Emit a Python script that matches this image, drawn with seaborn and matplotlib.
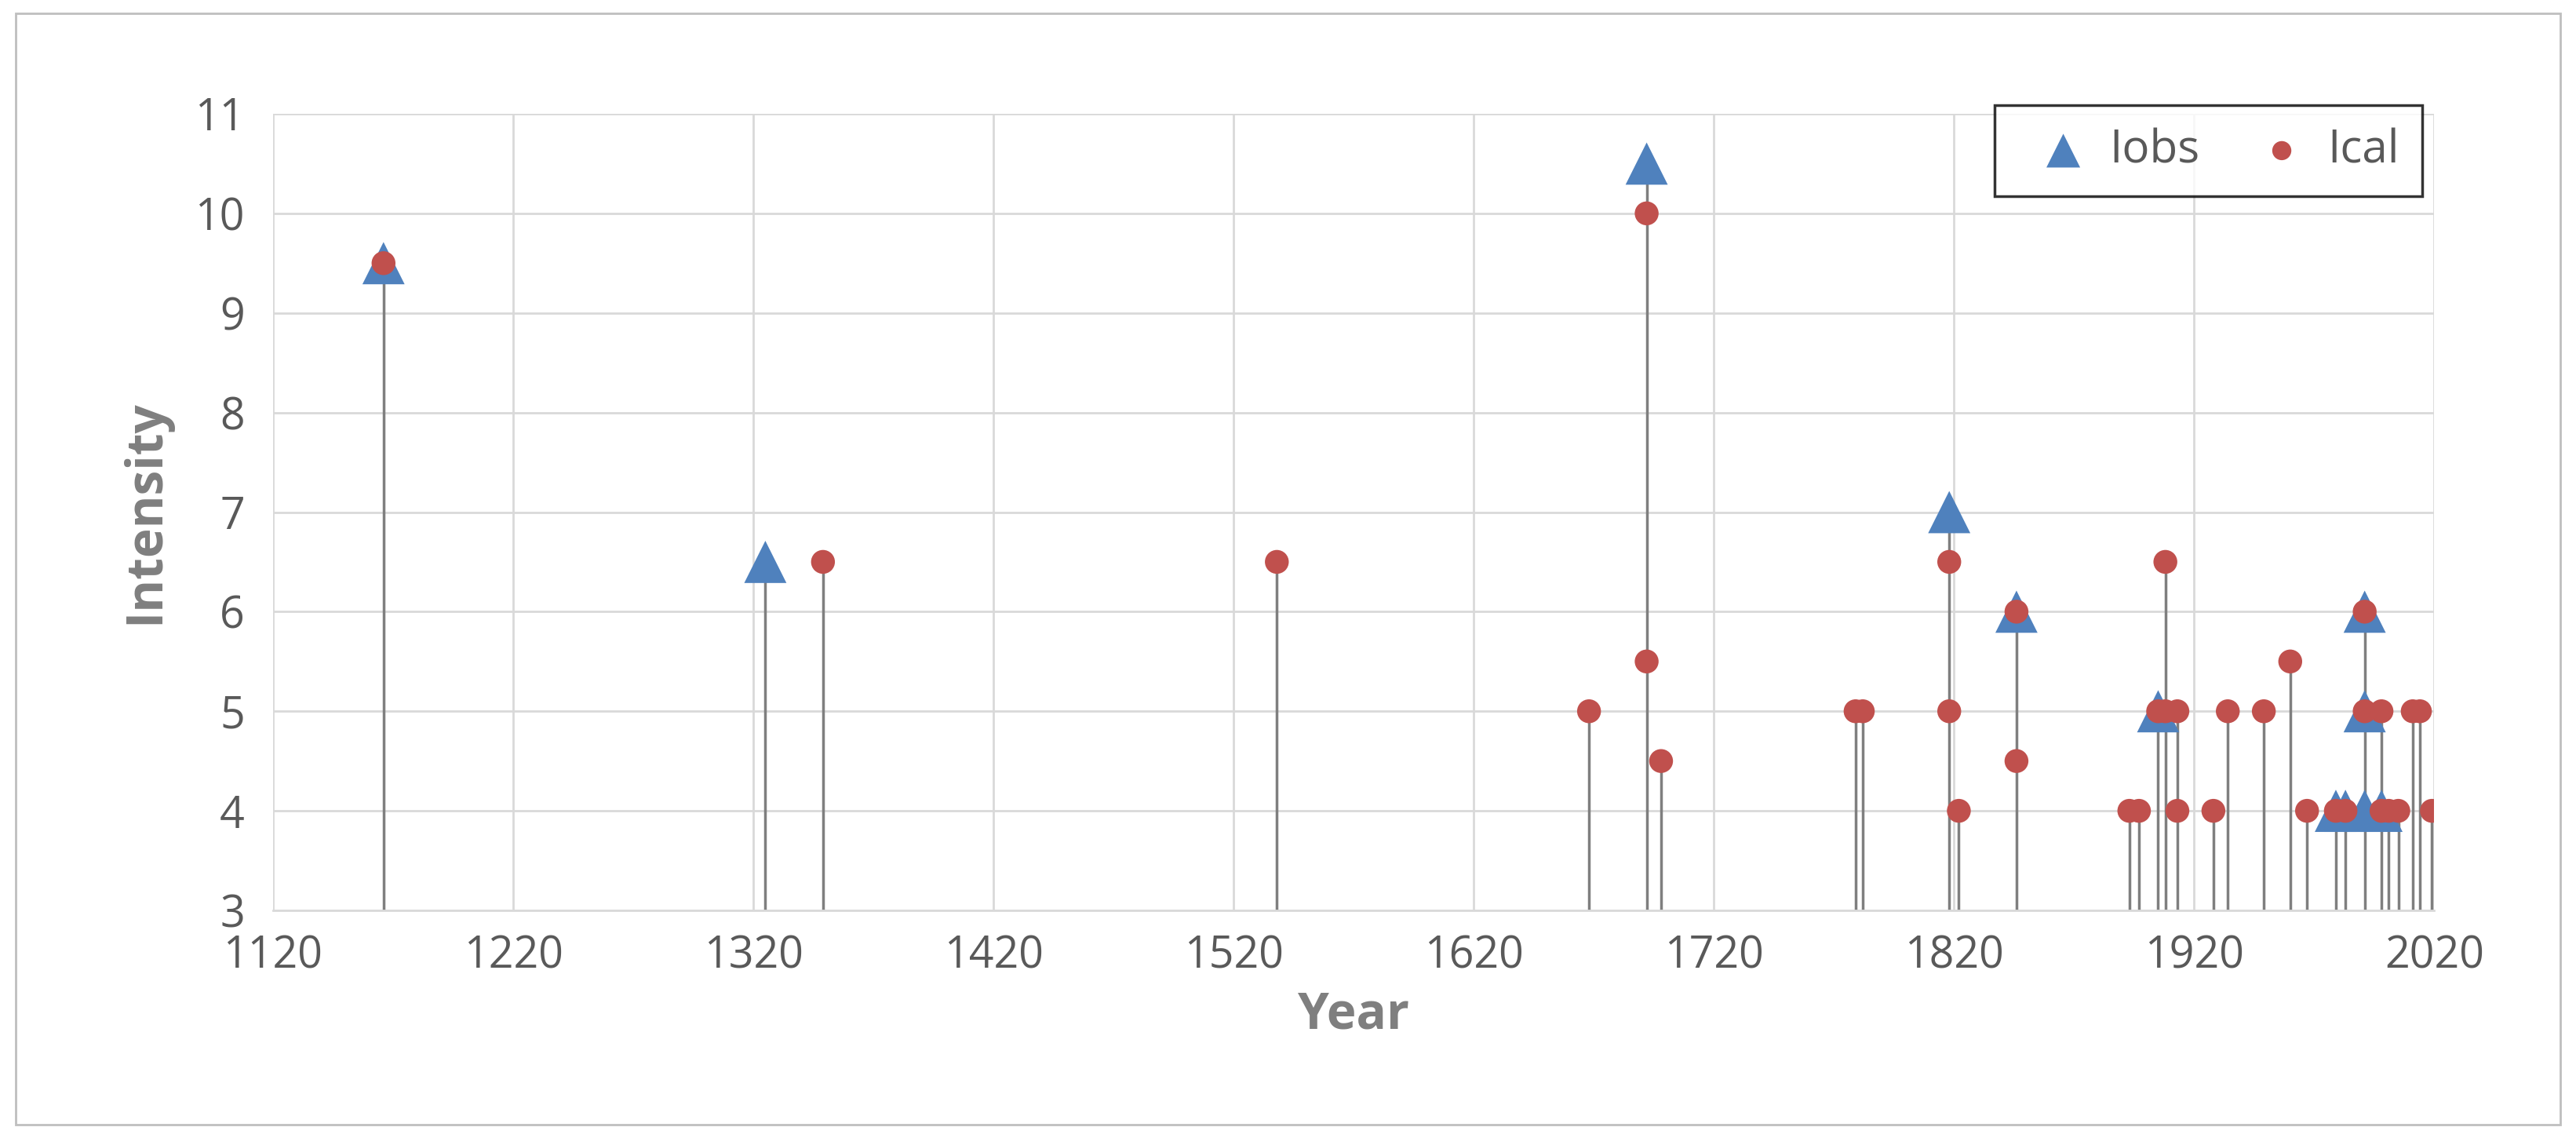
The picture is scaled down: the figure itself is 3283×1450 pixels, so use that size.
import matplotlib
matplotlib.use("Agg")
import matplotlib.pyplot as plt
import seaborn as sns
import pandas as pd
from matplotlib.patches import Rectangle

obs_year = [1166, 1325, 1692, 1818, 1846, 1905, 1979, 1983, 1991, 1991, 1991, 1998]
obs_int = [9.5, 6.5, 10.5, 7, 6, 5, 4, 4, 6, 5, 4, 4]

cal_year = [1166, 1349, 1538, 1668, 1692, 1692, 1698, 1779, 1782,
            1818, 1818, 1822, 1846, 1846, 1893, 1897, 1905, 1908, 1908,
            1913, 1913, 1928, 1934, 1949, 1960, 1967, 1979, 1983, 1991,
            1991, 1998, 1998, 2001, 2005, 2011, 2014, 2019]
cal_int = [9.5, 6.5, 6.5, 5, 10, 5.5, 4.5, 5, 5,
           6.5, 5, 4, 6, 4.5, 4, 4, 5, 6.5, 5,
           5, 4, 4, 5, 5, 5.5, 4, 4, 4, 6,
           5, 5, 4, 4, 4, 5, 5, 4]

x_ticks = [1120, 1220, 1320, 1420, 1520, 1620, 1720, 1820, 1920, 2020]
y_ticks = [3, 4, 5, 6, 7, 8, 9, 10, 11]

sns.set_style("white")
plt.rcParams['font.family'] = ['Open Sans', 'DejaVu Sans']

fig = plt.figure(figsize=(32.83, 14.5), dpi=100)
fig.patches.append(Rectangle((0.006, 0.012), 0.988, 0.976, transform=fig.transFigure,
                             fill=False, edgecolor='#bfbfbf', linewidth=2))
ax = fig.add_axes([0.106, 0.2, 0.839, 0.70])

obs = pd.DataFrame({'Year': obs_year, 'Intensity': obs_int})
cal = pd.DataFrame({'Year': cal_year, 'Intensity': cal_int})
allp = pd.concat([obs, cal]).groupby('Year')['Intensity'].max().reset_index()
ax.vlines(allp['Year'], 3, allp['Intensity'], color='#7f7f7f', linewidth=2.5, zorder=2)

sns.scatterplot(data=obs, x='Year', y='Intensity', marker='^', s=1500, color='#4f81bd',
                edgecolor='none', ax=ax, zorder=3, label='Iobs')
sns.scatterplot(data=cal, x='Year', y='Intensity', marker='o', s=480, color='#c0504d',
                edgecolor='none', ax=ax, zorder=4, label='Ical')

ax.set_xlim(1120, 2020)
ax.set_ylim(3, 11)
ax.set_xticks(x_ticks)
ax.set_yticks(y_ticks)
ax.grid(True, color='#d9d9d9', linewidth=2)
for s in ['top', 'right', 'left']:
    ax.spines[s].set_visible(False)
ax.spines['bottom'].set_color('#d9d9d9')
ax.spines['bottom'].set_linewidth(2)
ax.tick_params(axis='x', labelsize=40, colors='#595959', length=0, pad=22)
ax.tick_params(axis='y', labelsize=40, colors='#595959', length=0, pad=26)
ax.set_xlabel('Year', fontsize=46, fontweight='bold', color='#7f7f7f', labelpad=10)
ax.set_ylabel('Intensity', fontsize=46, fontweight='bold', color='#7f7f7f', labelpad=22)

leg = ax.legend(loc='upper right', bbox_to_anchor=(1.005, 1.04), ncol=2, fontsize=42,
                frameon=True, fancybox=False, edgecolor='black', handletextpad=0.0,
                columnspacing=0.8, borderpad=0.5, markerscale=0.8)
leg.get_frame().set_linewidth(2.5)
for t in leg.get_texts():
    t.set_color('#595959')

fig.savefig('out.png', dpi=100)
